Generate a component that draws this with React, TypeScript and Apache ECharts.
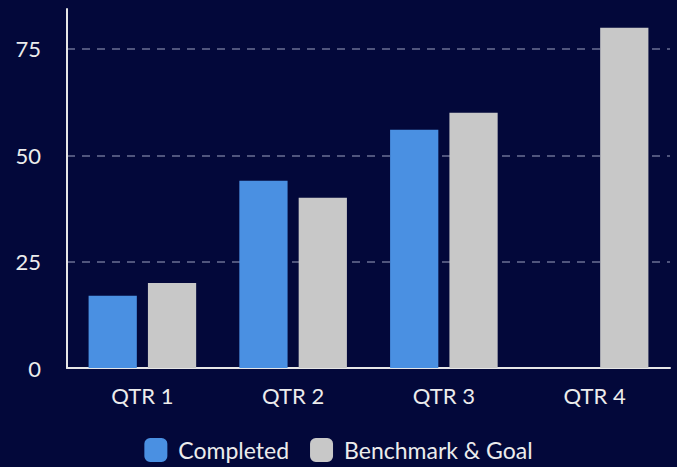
import React, { useEffect, useRef } from "react";
import * as echarts from "echarts";

const categories = ["QTR 1", "QTR 2", "QTR 3", "QTR 4"];
const completed: (number | null)[] = [17, 44, 56, null];
const benchmark = [20, 40, 60, 80];
const seriesNames = ["Completed", "Benchmark & Goal"];

export default function App() {
  const ref = useRef<HTMLDivElement>(null);
  useEffect(() => {
    document.body.style.margin = "0";
    document.body.style.background = "#03083a";
    const chart = echarts.init(ref.current!, null, { renderer: "svg" });
    const grid = "rgba(150,155,185,0.7)";
    chart.setOption({
      animation: false,
      backgroundColor: "#03083a",
      textStyle: { fontFamily: "Lato" },
      grid: { left: 67, right: 7, top: 9, bottom: 99, containLabel: false },
      legend: {
        bottom: 0,
        left: "center",
        itemWidth: 23,
        itemHeight: 24,
        itemGap: 21,
        icon: "roundRect",
        textStyle: { color: "#ececec", fontSize: 23, fontFamily: "Lato", padding: [0, 0, 0, 6] },
        data: seriesNames,
      },
      xAxis: {
        type: "category",
        data: categories,
        axisLine: { lineStyle: { color: "#e6e6e6", width: 2 } },
        axisTick: { show: false },
        axisLabel: { color: "#ececec", fontSize: 22, margin: 16, fontFamily: "Lato" },
      },
      yAxis: {
        type: "value",
        min: 0,
        max: 84.4,
        interval: 25,
        axisLine: { show: true, lineStyle: { color: "#e6e6e6", width: 2 } },
        axisTick: { show: false },
        axisLabel: { color: "#ececec", fontSize: 22, margin: 26, showMaxLabel: false, fontFamily: "Lato" },
        splitLine: {
          show: true,
          lineStyle: {
            type: [8, 7],
            width: 1.5,
            color: ["rgba(0,0,0,0)", grid, grid, grid, "rgba(0,0,0,0)"],
          },
        },
      },
      series: [
        {
          name: seriesNames[0],
          type: "bar",
          data: completed,
          barWidth: "32%",
          barGap: "23%",
          itemStyle: { color: "#4a90e2" },
        },
        {
          name: seriesNames[1],
          type: "bar",
          data: benchmark,
          barWidth: "32%",
          itemStyle: { color: "#c8c8c8" },
        },
      ],
    });
    return () => chart.dispose();
  }, []);
  return <div ref={ref} style={{ position: "absolute", left: 0, top: 0, width: 677, height: 467 }} />;
}
